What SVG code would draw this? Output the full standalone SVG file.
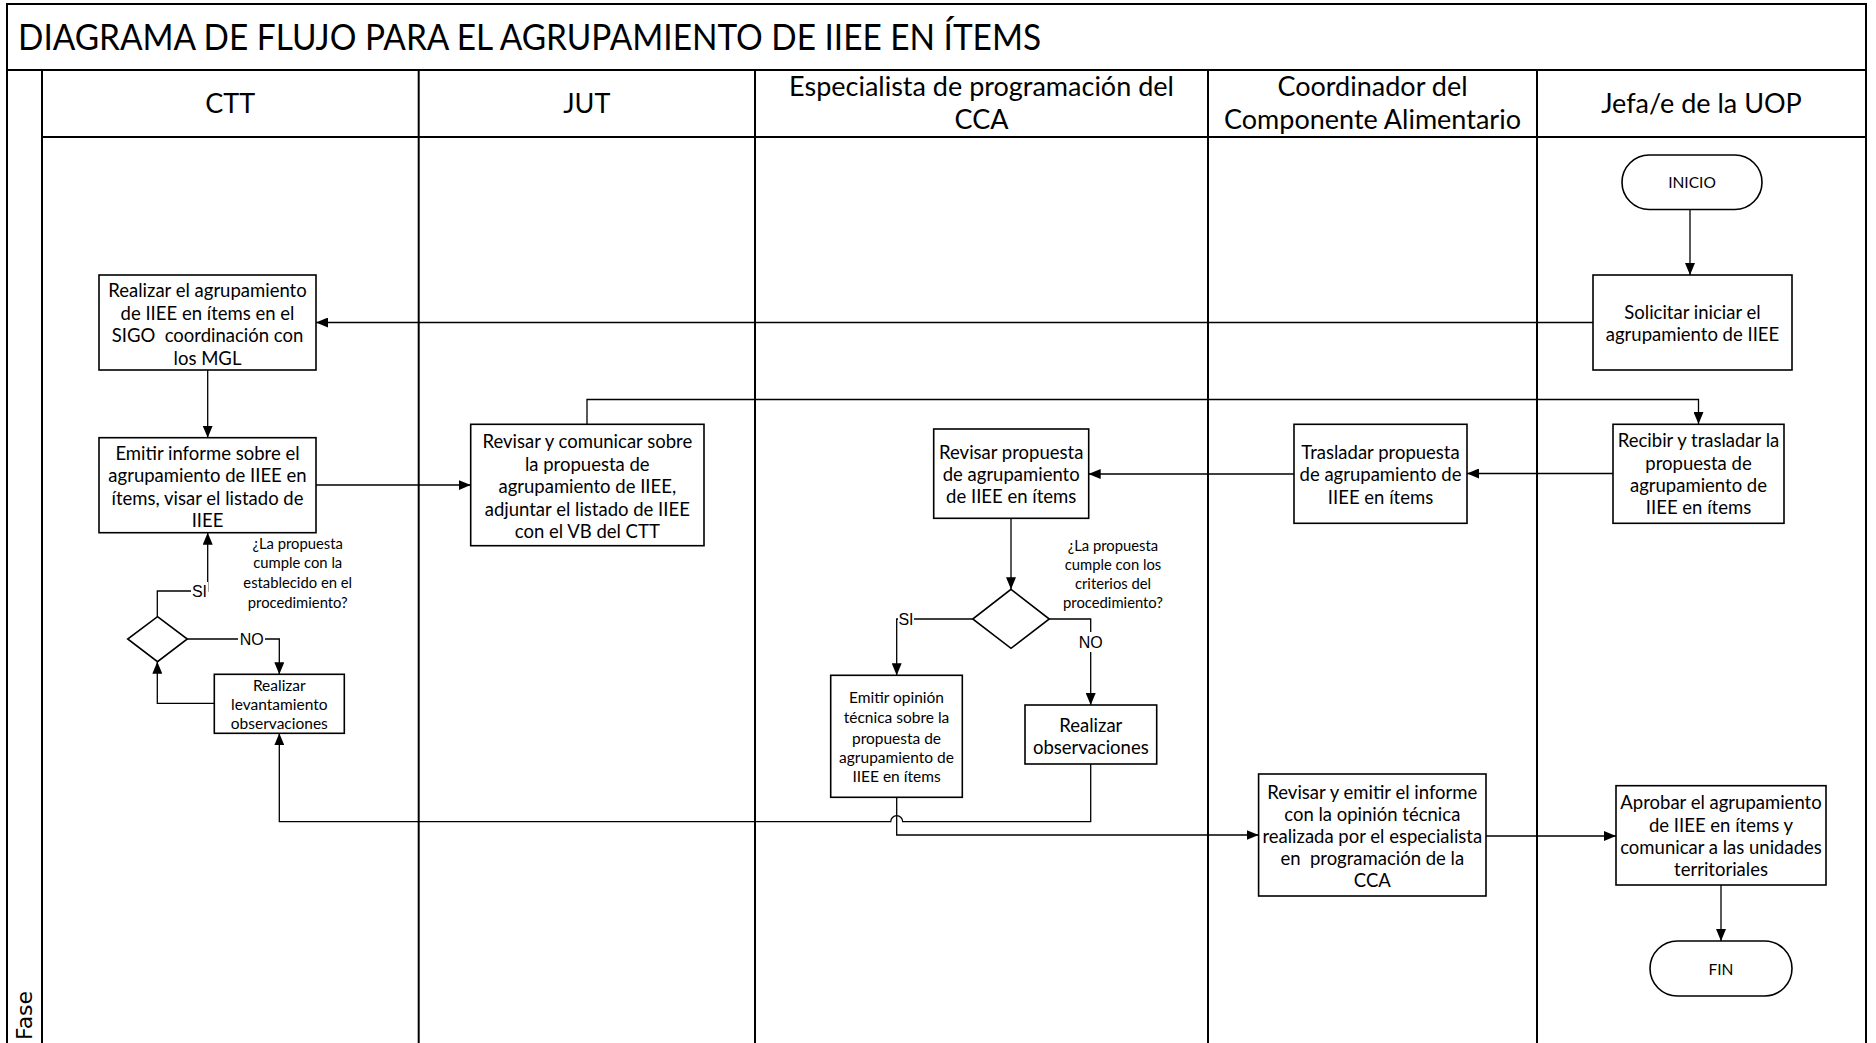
<svg xmlns="http://www.w3.org/2000/svg" width="1876" height="1043" viewBox="0 0 1876 1043">
<style>
.lane{fill:none;stroke:#000;stroke-width:2}
.box{fill:#fff;stroke:#000;stroke-width:1.6}
.con{fill:none;stroke:#000;stroke-width:1.3}
.t{font-family:Lato,"Liberation Sans",sans-serif;fill:#000;text-anchor:middle;dominant-baseline:central;white-space:pre}
.b{font-size:18.5px}
.s{font-size:15.5px}
.q{font-size:14.8px}
.h{font-family:Lato,"Liberation Sans",sans-serif;font-size:27px;text-anchor:middle;fill:#000}
.lbl{font-family:"Liberation Sans",Arial,sans-serif;font-size:16px;fill:#000;text-anchor:middle;dominant-baseline:central}
</style>
<defs>
<marker id="ah" markerUnits="userSpaceOnUse" markerWidth="12" markerHeight="10" viewBox="0 0 12 10" refX="12" refY="5" orient="auto">
<path d="M0,0 L12,5 L0,10 Z" fill="#000"/>
</marker>
</defs>
<rect width="1876" height="1043" fill="#fff"/>
<g id="frame">
<path class="lane" d="M7,1043 V4 H1866 V1043"/>
<line class="lane" x1="7" y1="70" x2="1866" y2="70"/>
<line class="lane" x1="42" y1="137" x2="1866" y2="137"/>
<line class="lane" x1="42" y1="70" x2="42" y2="1043"/>
<line class="lane" x1="418.7" y1="70" x2="418.7" y2="1043"/>
<line class="lane" x1="755" y1="70" x2="755" y2="1043"/>
<line class="lane" x1="1208" y1="70" x2="1208" y2="1043"/>
<line class="lane" x1="1537" y1="70" x2="1537" y2="1043"/>
<text x="18" y="50" font-family="Lato,'Liberation Sans',sans-serif" font-size="37" fill="#000" textLength="1023" lengthAdjust="spacingAndGlyphs">DIAGRAMA DE FLUJO PARA EL AGRUPAMIENTO DE IIEE EN ÍTEMS</text>
<text class="h" x="230.3" y="112.5">CTT</text>
<text class="h" x="586.8" y="112.5">JUT</text>
<text class="h" x="981.5" y="95.5">Especialista de programación del</text>
<text class="h" x="981.5" y="129">CCA</text>
<text class="h" x="1372.5" y="95.5">Coordinador del</text>
<text class="h" x="1372.5" y="129">Componente Alimentario</text>
<text class="h" x="1701.5" y="112.5">Jefa/e de la UOP</text>
<text x="32" y="1040" transform="rotate(-90 32 1040)" font-family="'DejaVu Sans',sans-serif" font-size="22" fill="#000">Fase</text>
</g>
<g id="connectors">
<path class="con" marker-end="url(#ah)" d="M1690,210 V275"/>
<path class="con" marker-end="url(#ah)" d="M1593,322.5 H316"/>
<path class="con" marker-end="url(#ah)" d="M207.7,370 V437.7"/>
<path class="con" marker-end="url(#ah)" d="M316,485 H470.7"/>
<path class="con" marker-end="url(#ah)" d="M587,424 V399.5 H1698.5 V424"/>
<path class="con" marker-end="url(#ah)" d="M1613,473.5 H1467"/>
<path class="con" marker-end="url(#ah)" d="M1294,474 H1088.7"/>
<path class="con" marker-end="url(#ah)" d="M1011,518.3 V589.3"/>
<path class="con" marker-end="url(#ah)" d="M972.7,619 H896.7 V675.3"/>
<path class="con" marker-end="url(#ah)" d="M1049.3,619 H1090.7 V705"/>
<path class="con" marker-end="url(#ah)" d="M1090.7,764 V821.7 H902.7 A6,6 0 0 0 890.7,821.7 H279.3 V733.3"/>
<path class="con" marker-end="url(#ah)" d="M896.7,797.3 V835 H1258.6"/>
<path class="con" marker-end="url(#ah)" d="M1486,836 H1616"/>
<path class="con" marker-end="url(#ah)" d="M1721,885 V941"/>
<path class="con" marker-end="url(#ah)" d="M157.3,616.7 V591 H207.7 V532.7"/>
<path class="con" marker-end="url(#ah)" d="M187.3,639 H279.3 V674.3"/>
<path class="con" marker-end="url(#ah)" d="M214.3,703.3 H157.3 V661.7"/>
<rect x="191" y="582" width="17" height="18" fill="#fff"/>
<text class="lbl" x="199.5" y="591">SI</text>
<rect x="238" y="630" width="27" height="18" fill="#fff"/>
<text class="lbl" x="251.7" y="639">NO</text>
<rect x="898" y="610" width="16" height="18" fill="#fff"/>
<text class="lbl" x="906" y="619">SI</text>
<rect x="1078" y="632" width="26" height="20" fill="#fff"/>
<text class="lbl" x="1090.7" y="642.7">NO</text>
<text class="t q" x="297.7" y="543.3">¿La propuesta</text>
<text class="t q" x="297.7" y="562.3">cumple con la</text>
<text class="t q" x="297.7" y="582.3">establecido en el</text>
<text class="t q" x="297.7" y="602">procedimiento?</text>
<text class="t q" x="1113" y="545">¿La propuesta</text>
<text class="t q" x="1113" y="564">cumple con los</text>
<text class="t q" x="1113" y="583.3">criterios del</text>
<text class="t q" x="1113" y="602">procedimiento?</text>
</g>
<g id="inicio">
<rect class="box" x="1622" y="155" width="140" height="54.5" rx="27.25"/>
<text class="t s" x="1692" y="182.3">INICIO</text>
</g>
<g id="solicitar">
<rect class="box" x="1593" y="275" width="199" height="95"/>
<text class="t b" x="1692.5" y="311.7">Solicitar iniciar el</text>
<text class="t b" x="1692.5" y="334">agrupamiento de IIEE</text>
</g>
<g id="realizar-agrupamiento">
<rect class="box" x="99" y="275" width="217" height="95"/>
<text class="t b" x="207.5" y="290">Realizar el agrupamiento</text>
<text class="t b" x="207.5" y="312.5">de IIEE en ítems en el</text>
<text class="t b" x="207.5" y="335">SIGO  coordinación con</text>
<text class="t b" x="207.5" y="357.5">los MGL</text>
</g>
<g id="emitir-informe">
<rect class="box" x="99" y="437.7" width="217" height="95"/>
<text class="t b" x="207.5" y="452.7">Emitir informe sobre el</text>
<text class="t b" x="207.5" y="475">agrupamiento de IIEE en</text>
<text class="t b" x="207.5" y="497.5">ítems, visar el listado de</text>
<text class="t b" x="207.5" y="520">IIEE</text>
</g>
<g id="decision-ctt">
<path class="box" d="M157.5,616.7 L187.3,639 L157.5,661.7 L127.7,639 Z"/>
</g>
<g id="levantamiento">
<rect class="box" x="214.3" y="674.3" width="130" height="59"/>
<text class="t s" x="279.3" y="685">Realizar</text>
<text class="t s" x="279.3" y="704">levantamiento</text>
<text class="t s" x="279.3" y="723.3">observaciones</text>
</g>
<g id="revisar-comunicar">
<rect class="box" x="470.7" y="424.3" width="233.3" height="121.4"/>
<text class="t b" x="587.3" y="440.7">Revisar y comunicar sobre</text>
<text class="t b" x="587.3" y="463.5">la propuesta de</text>
<text class="t b" x="587.3" y="486.3">agrupamiento de IIEE,</text>
<text class="t b" x="587.3" y="508.5">adjuntar el listado de IIEE</text>
<text class="t b" x="587.3" y="530.7">con el VB del CTT</text>
</g>
<g id="recibir">
<rect class="box" x="1613" y="424.3" width="171" height="99"/>
<text class="t b" x="1698.5" y="440">Recibir y trasladar la</text>
<text class="t b" x="1698.5" y="462.7">propuesta de</text>
<text class="t b" x="1698.5" y="485">agrupamiento de</text>
<text class="t b" x="1698.5" y="507">IIEE en ítems</text>
</g>
<g id="trasladar">
<rect class="box" x="1294" y="424.3" width="173" height="99"/>
<text class="t b" x="1380.5" y="451.7">Trasladar propuesta</text>
<text class="t b" x="1380.5" y="474.3">de agrupamiento de</text>
<text class="t b" x="1380.5" y="496.5">IIEE en ítems</text>
</g>
<g id="revisar-propuesta">
<rect class="box" x="933.7" y="429" width="155" height="89.3"/>
<text class="t b" x="1011.2" y="451.7">Revisar propuesta</text>
<text class="t b" x="1011.2" y="474">de agrupamiento</text>
<text class="t b" x="1011.2" y="496.3">de IIEE en ítems</text>
</g>
<g id="decision-esp">
<path class="box" d="M1011,589.3 L1049.3,619 L1011,648.3 L972.7,619 Z"/>
</g>
<g id="emitir-opinion">
<rect class="box" x="830.7" y="675.3" width="131.6" height="122"/>
<text class="t s" x="896.5" y="696.7">Emitir opinión</text>
<text class="t s" x="896.5" y="717">técnica sobre la</text>
<text class="t s" x="896.5" y="737.5">propuesta de</text>
<text class="t s" x="896.5" y="756.7">agrupamiento de</text>
<text class="t s" x="896.5" y="776">IIEE en ítems</text>
</g>
<g id="realizar-observaciones">
<rect class="box" x="1025" y="705" width="131.7" height="59"/>
<text class="t b" x="1090.8" y="725">Realizar</text>
<text class="t b" x="1090.8" y="746.7">observaciones</text>
</g>
<g id="revisar-emitir">
<rect class="box" x="1258.6" y="774" width="227.4" height="122"/>
<text class="t b" x="1372.3" y="791.7">Revisar y emitir el informe</text>
<text class="t b" x="1372.3" y="813.5">con la opinión técnica</text>
<text class="t b" x="1372.3" y="836">realizada por el especialista</text>
<text class="t b" x="1372.3" y="858.3">en  programación de la</text>
<text class="t b" x="1372.3" y="880">CCA</text>
</g>
<g id="aprobar">
<rect class="box" x="1616" y="785.7" width="210" height="99.3"/>
<text class="t b" x="1721" y="802.3">Aprobar el agrupamiento</text>
<text class="t b" x="1721" y="825">de IIEE en ítems y</text>
<text class="t b" x="1721" y="847.3">comunicar a las unidades</text>
<text class="t b" x="1721" y="869.3">territoriales</text>
</g>
<g id="fin">
<rect class="box" x="1650" y="941" width="142" height="55" rx="27.5"/>
<text class="t s" x="1721" y="968.5">FIN</text>
</g>
</svg>
